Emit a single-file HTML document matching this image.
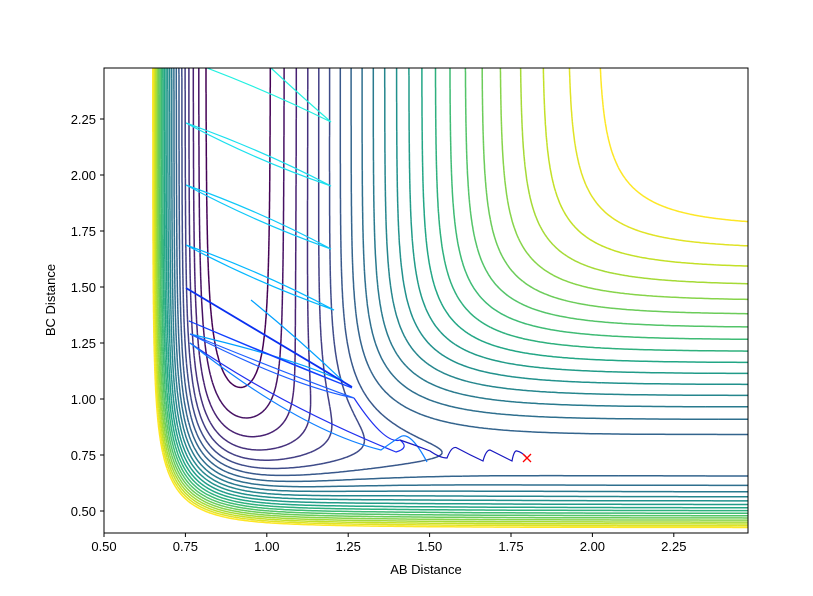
<!DOCTYPE html>
<html><head><meta charset="utf-8"><style>
html,body{margin:0;padding:0;background:#fff;width:813px;height:596px;overflow:hidden}
svg text{font-family:"Liberation Sans","DejaVu Sans",sans-serif;font-size:13px;fill:#000}
</style></head><body>
<svg id="s" width="813" height="596" viewBox="0 0 813 596" xmlns="http://www.w3.org/2000/svg">
<defs><clipPath id="c"><rect x="104" y="68" width="644" height="465"/></clipPath></defs>
<rect width="813" height="596" fill="#fff"/>
<g id="cont" clip-path="url(#c)" fill="none" stroke-width="1.5"></g>
<g clip-path="url(#c)" fill="none" stroke-width="1.2">
<path d="M207,68 Q270,92 331,122 M271,68 Q300,95 331,122" stroke="#22f0e0"/>
<path d="M186,123 Q262,150 331,186 Q255,160 186,123" stroke="#1ce0ee"/>
<path d="M186,185 Q262,212 331,249 Q255,222 186,185" stroke="#10c8f8"/>
<path d="M186,245 Q262,272 334,310 Q255,282 186,245" stroke="#05b8ff"/>
<path d="M251,300 Q300,340 344,382 Q300,360 190,334" stroke="#00a0ff"/>
<path d="M186,288 L352,387" stroke="#0a30f0" stroke-width="1.8"/>
<path d="M189,321 Q280,360 352,388 Q270,355 189,321" stroke="#1040ff"/>
<path d="M190,334 Q290,385 354,398 Q290,375 190,334" stroke="#2060ff"/>
<path d="M190,343 Q280,405 396,452 Q410,448 400,440 Q385,445 354,398" stroke="#2030f0"/>
<path d="M190,343 Q300,430 381,450 Q395,440 400,437 Q410,430 427,462" stroke="#1080ff"/>
<path d="M400,440 Q415,445 430,451 Q440,458 447,458 Q452,445 457,448 Q470,455 483,461 Q486,450 490,450 Q500,455 512,461 Q514,450 517,451 Q522,452 527,458" stroke="#1818c0"/>
</g>
<path d="M523,454 l8,8 M531,454 l-8,8" stroke="#f00" stroke-width="1.3"/>
<rect x="104" y="68" width="644" height="465" fill="none" stroke="#000" stroke-width="1"/>
<g id="ticks" stroke="#000" stroke-width="1"></g>
<g id="labels"></g>
<text x="426" y="574" text-anchor="middle">AB Distance</text>
<text x="55" y="300" text-anchor="middle" transform="rotate(-90 55 300)">BC Distance</text>
</svg>
<script>
(function(){
var NS="http://www.w3.org/2000/svg";
function px(x){return 104+(x-0.5)*325.6;}
function py(y){return 511-(y-0.5)*224;}
var k=0.18;
function M(r,D,a,r0){var e=Math.exp(-a*(r-r0));var f=D/(4*(1+k));
return [f*((3+k)*e*e-(2+6*k)*e), f*((1+3*k)*e*e-(6+2*k)*e)];}
function V(x,y){var A=M(x,1.39,2.12,0.88),B=M(y,1,2,0.74),C=M(x+y,1,2,0.74);
return A[0]+B[0]+C[0]-Math.sqrt(((A[1]-B[1])*(A[1]-B[1])+(B[1]-C[1])*(B[1]-C[1])+(C[1]-A[1])*(C[1]-A[1]))/2)+0.6*Math.exp(-15*(x-0.65));}
var vir=["#440154","#482475","#414487","#355f8d","#2a788e","#21918c","#22a884","#44bf70","#7ad151","#bddf26","#fde725"];
function hx(h){return [parseInt(h.substr(1,2),16),parseInt(h.substr(3,2),16),parseInt(h.substr(5,2),16)];}
function col(t){var s=t*10,i=Math.min(9,Math.floor(s)),f=s-i,a=hx(vir[i]),b=hx(vir[i+1]);
return "rgb("+[0,1,2].map(function(j){return Math.round(a[j]+(b[j]-a[j])*f);}).join(",")+")";}
var x0=0.5,x1=2.5,y0=0.38,y1=2.5,N=300,G=[];
for(var j=0;j<=N;j++){G[j]=[];for(var i=0;i<=N;i++){G[j][i]=V(x0+(x1-x0)*i/N,y0+(y1-y0)*j/N);}}
function X(i){return px(x0+(x1-x0)*i/N);} function Y(j){return py(y0+(y1-y0)*j/N);}
var nl=23,st=0.0485,lv0=-1.305,g=document.getElementById("cont");
for(var l=0;l<nl;l++){var L=lv0+st*l,d="";
for(var j=0;j<N;j++)for(var i=0;i<N;i++){
var a=G[j][i],b=G[j][i+1],c=G[j+1][i+1],e=G[j+1][i];
var pts=[];
function ip(v1,v2,xa,ya,xb,yb){var t=(L-v1)/(v2-v1);pts.push([xa+(xb-xa)*t,ya+(yb-ya)*t]);}
if((a<L)!=(b<L))ip(a,b,X(i),Y(j),X(i+1),Y(j));
if((b<L)!=(c<L))ip(b,c,X(i+1),Y(j),X(i+1),Y(j+1));
if((c<L)!=(e<L))ip(c,e,X(i+1),Y(j+1),X(i),Y(j+1));
if((e<L)!=(a<L))ip(e,a,X(i),Y(j+1),X(i),Y(j));
for(var q=0;q+1<pts.length;q+=2)d+="M"+pts[q][0].toFixed(1)+","+pts[q][1].toFixed(1)+"L"+pts[q+1][0].toFixed(1)+","+pts[q+1][1].toFixed(1);
}
var p=document.createElementNS(NS,"path");p.setAttribute("d",d);p.setAttribute("stroke",col(l/(nl-1)));g.appendChild(p);}
var tk=document.getElementById("ticks"),lb=document.getElementById("labels");
function ln(a,b,c,d2){var e=document.createElementNS(NS,"line");e.setAttribute("x1",a);e.setAttribute("y1",b);e.setAttribute("x2",c);e.setAttribute("y2",d2);tk.appendChild(e);}
function tx(s,x,y,an){var e=document.createElementNS(NS,"text");e.setAttribute("x",x);e.setAttribute("y",y);e.setAttribute("text-anchor",an);e.textContent=s;lb.appendChild(e);}
[0.5,0.75,1,1.25,1.5,1.75,2,2.25].forEach(function(v){var X0=px(v);ln(X0,533,X0,537);tx(v.toFixed(2),X0,551,"middle");
var Y0=py(v);ln(104,Y0,100,Y0);tx(v.toFixed(2),96,Y0+5,"end");});
})();
</script>
</body></html>
